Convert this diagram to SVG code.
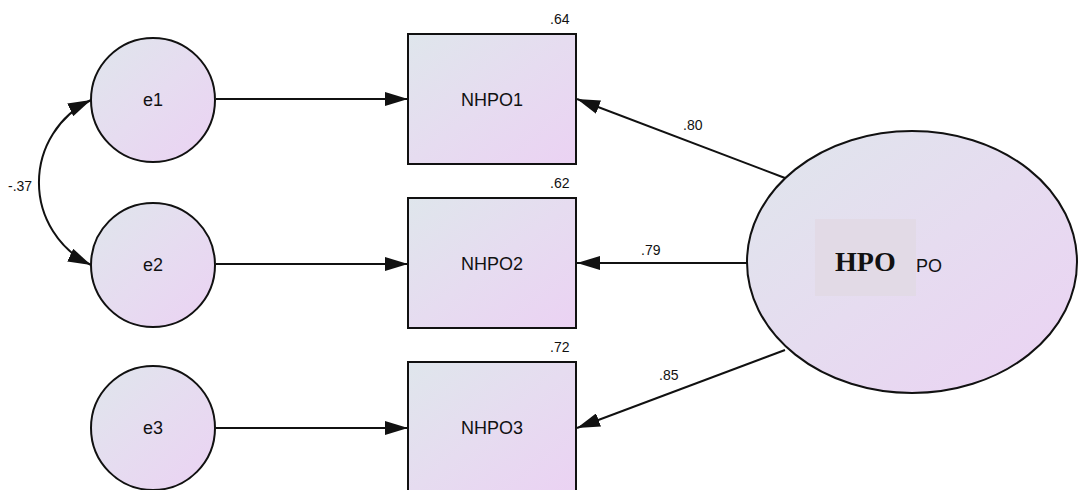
<svg xmlns="http://www.w3.org/2000/svg" width="1078" height="490" viewBox="0 0 1078 490">
<style>
.sh{stroke:#111;stroke-width:2;fill:url(#g)}
.t{font-family:"Liberation Sans",Arial,sans-serif;font-size:18px;fill:#111;text-anchor:middle}
.n{font-family:"Liberation Sans",Arial,sans-serif;font-size:14px;fill:#111}
.c{stroke:#111;stroke-width:2;fill:none}
</style>
<defs>
<linearGradient id="g" x1="0" y1="0" x2="1" y2="1">
<stop offset="0" stop-color="#dfe6ec"/>
<stop offset="0.5" stop-color="#e6dcf0"/>
<stop offset="1" stop-color="#ebd2f3"/>
</linearGradient>
<marker id="a" markerUnits="userSpaceOnUse" markerWidth="24" markerHeight="14" refX="23" refY="7" orient="auto-start-reverse" viewBox="0 0 24 14">
<path d="M0,0 L23,7 L0,14 Z" fill="#111"/>
</marker>
</defs>
<g id="connectors">
<line class="c" x1="216" y1="99" x2="408" y2="99" marker-end="url(#a)"/>
<line class="c" x1="216" y1="264" x2="408" y2="264" marker-end="url(#a)"/>
<line class="c" x1="216" y1="428" x2="408" y2="428" marker-end="url(#a)"/>
<line class="c" x1="785" y1="178" x2="577" y2="99" marker-end="url(#a)"/>
<line class="c" x1="747" y1="263" x2="577" y2="263" marker-end="url(#a)"/>
<line class="c" x1="785" y1="350" x2="577" y2="428" marker-end="url(#a)"/>
<path class="c" d="M91,100 A91.4,91.4 0 0 0 91,265" marker-start="url(#a)" marker-end="url(#a)"/>
<text class="n" x="683" y="130">.80</text>
<text class="n" x="641" y="255">.79</text>
<text class="n" x="659" y="380">.85</text>
<text class="n" x="8" y="191">-.37</text>
</g>
<g id="e1"><circle class="sh" cx="153" cy="100" r="62"/><text class="t" x="153" y="106">e1</text></g>
<g id="e2"><circle class="sh" cx="153" cy="265" r="62"/><text class="t" x="153" y="271">e2</text></g>
<g id="e3"><circle class="sh" cx="153" cy="428" r="62"/><text class="t" x="153" y="434">e3</text></g>
<g id="NHPO1"><rect class="sh" x="408" y="34" width="168" height="130"/><text class="t" x="492" y="106">NHPO1</text><text class="n" x="550" y="24">.64</text></g>
<g id="NHPO2"><rect class="sh" x="408" y="198" width="168" height="130"/><text class="t" x="492" y="270">NHPO2</text><text class="n" x="550" y="188">.62</text></g>
<g id="NHPO3"><rect class="sh" x="408" y="362" width="168" height="132"/><text class="t" x="492" y="434">NHPO3</text><text class="n" x="550" y="352">.72</text></g>
<g id="HPO">
<ellipse class="sh" cx="912" cy="262" rx="165" ry="131"/>
<rect x="815" y="219" width="101" height="77" fill="#e2dae6"/>
<text x="835" y="271" font-family="'Liberation Serif','Times New Roman',serif" font-weight="bold" font-size="28" fill="#111">HPO</text>
<text x="916" y="272" font-family="'Liberation Sans',Arial,sans-serif" font-size="18" fill="#111">PO</text>
</g>
</svg>
